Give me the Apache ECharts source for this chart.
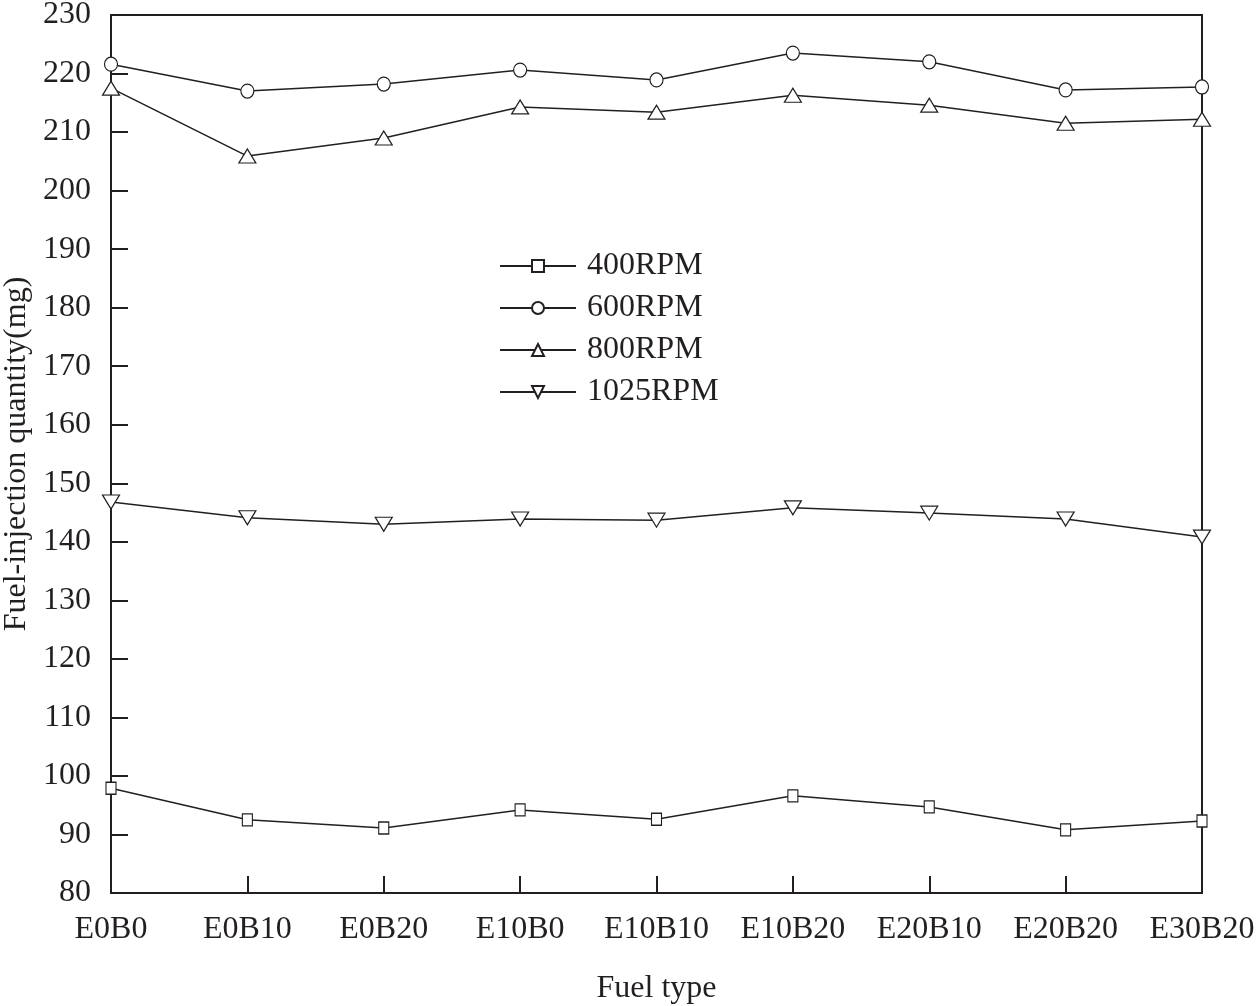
<!DOCTYPE html>
<html>
<head>
<meta charset="utf-8">
<script src="https://cdn.jsdelivr.net/npm/echarts@6/dist/echarts.min.js"></script>
<style>html,body{margin:0;padding:0;background:#fff}#c{width:1259px;height:1006px}</style>
</head>
<body>
<div id="c"></div>
<script>
const categories = ['E0B0','E0B10','E0B20','E10B0','E10B10','E10B20','E20B10','E20B20','E30B20'];
const rpm400  = [97.9, 92.5, 91.1, 94.2, 92.6, 96.6, 94.7, 90.8, 92.3];
const rpm600  = [221.6, 217.0, 218.2, 220.6, 218.9, 223.5, 222.0, 217.2, 217.7];
const rpm800  = [217.5, 205.9, 209.0, 214.3, 213.4, 216.3, 214.6, 211.5, 212.2];
const rpm1025 = [146.8, 144.1, 143.0, 143.9, 143.7, 145.8, 144.9, 143.9, 140.8];
const seriesNames = ['400RPM','600RPM','800RPM','1025RPM'];

const ink = '#231f20';
const font = '"Liberation Serif","Times New Roman",serif';
const downTri = 'path://M0,0 L10,0 L5,9 Z';
const upTri = 'path://M5,0 L10,9 L0,9 Z';

function mk(name, data, symbol, size) {
  return {
    name: name, type: 'line', data: data,
    symbol: symbol, symbolSize: size, showAllSymbol: true,
    lineStyle: { color: ink, width: 1.5 },
    itemStyle: { color: '#fff', borderColor: ink, borderWidth: 1.2 },
    emphasis: { disabled: true },
    animation: false
  };
}

const chart = echarts.init(document.getElementById('c'));
chart.setOption({
  backgroundColor: '#fff',
  animation: false,
  grid: { left: 111, right: 57, top: 15, bottom: 113, containLabel: false, outerBoundsMode: 'none',
          show: true, borderColor: ink, borderWidth: 2, backgroundColor: 'transparent' },
  legend: {
    orient: 'vertical', left: 494, top: 245,
    itemWidth: 76, itemHeight: 15, itemGap: 10,
    textStyle: { fontFamily: font, fontSize: 32, color: ink, lineHeight: 32, padding: [0,0,0,6] },
    data: seriesNames
  },
  xAxis: {
    type: 'category', data: categories, boundaryGap: false,
    name: 'Fuel type', nameLocation: 'middle', nameGap: 80,
    nameTextStyle: { fontFamily: font, fontSize: 32, color: ink },
    axisLine: { lineStyle: { color: ink, width: 2 } },
    axisTick: { inside: true, length: 17, lineStyle: { color: ink, width: 2 } },
    axisLabel: { fontFamily: font, fontSize: 32, color: ink, margin: 21, interval: 0 },
    splitLine: { show: false }
  },
  yAxis: {
    type: 'value', min: 80, max: 230, interval: 10,
    name: 'Fuel-injection quantity(mg)', nameLocation: 'middle', nameGap: 72,
    nameTextStyle: { fontFamily: font, fontSize: 32, color: ink },
    axisLine: { show: true, lineStyle: { color: ink, width: 2 } },
    axisTick: { show: true, inside: true, length: 17, lineStyle: { color: ink, width: 2 } },
    axisLabel: { fontFamily: font, fontSize: 32, color: ink, margin: 20 },
    splitLine: { show: false }
  },
  series: [
    mk('400RPM', rpm400, 'rect', [10, 12]),
    mk('600RPM', rpm600, 'circle', [13, 14]),
    mk('800RPM', rpm800, upTri, [17, 14]),
    mk('1025RPM', rpm1025, downTri, [17, 14])
  ]
});
</script>
</body>
</html>
